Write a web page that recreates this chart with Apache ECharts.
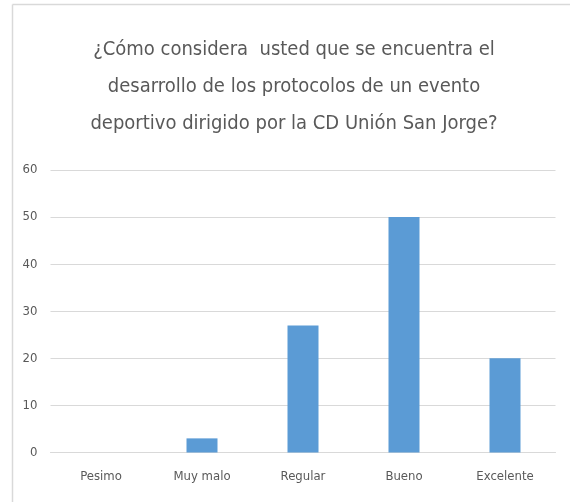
<!DOCTYPE html>
<html><head><meta charset="utf-8">
<script src="https://cdn.jsdelivr.net/npm/echarts@6/dist/echarts.min.js"></script>
<style>html,body{margin:0;padding:0;background:#fff}#c{width:570px;height:502px}</style>
</head><body><div id="c"></div>
<script>
var titleLines = ['¿Cómo considera  usted que se encuentra el', 'desarrollo de los protocolos de un evento', 'deportivo dirigido por la CD Unión San Jorge?'];
var categories = ['Pesimo', 'Muy malo', 'Regular', 'Bueno', 'Excelente'];
var values = [0, 3, 27, 50, 20];
var yTicks = [0, 10, 20, 30, 40, 50, 60];

var font = '"DejaVu Sans Condensed", sans-serif';
var chart = echarts.init(document.getElementById('c'), null, {renderer: 'canvas'});
chart.setOption({
  animation: false,
  backgroundColor: '#fff',
  title: {
    text: titleLines.join('\n'),
    left: 289, top: 26, textAlign: 'center',
    textStyle: {fontFamily: font, fontSize: 20, fontWeight: 'normal', color: '#595959', lineHeight: 37}
  },
  graphic: [
    {type: 'line', shape: {x1: 12.5, y1: 4.5, x2: 570, y2: 4.5}, style: {stroke: '#d9d9d9', lineWidth: 1.5}},
    {type: 'line', shape: {x1: 12.5, y1: 4.5, x2: 12.5, y2: 502}, style: {stroke: '#d9d9d9', lineWidth: 1.5}}
  ],
  grid: {left: 50.5, right: 14.5, top: 170, bottom: 49.5, containLabel: false},
  xAxis: {
    type: 'category', data: categories,
    axisLine: {show: true, lineStyle: {color: '#d9d9d9'}},
    axisTick: {show: false},
    axisLabel: {fontFamily: font, fontSize: 13, color: '#595959', margin: 18}
  },
  yAxis: {
    type: 'value', min: yTicks[0], max: yTicks[yTicks.length - 1], interval: 10,
    axisLine: {show: false}, axisTick: {show: false},
    splitLine: {lineStyle: {color: '#d9d9d9', width: 1}},
    axisLabel: {fontFamily: font, fontSize: 13, color: '#595959', margin: 13}
  },
  series: [{
    type: 'bar', data: values, barWidth: 31,
    itemStyle: {color: '#5b9bd5'}
  }]
});
</script></body></html>
